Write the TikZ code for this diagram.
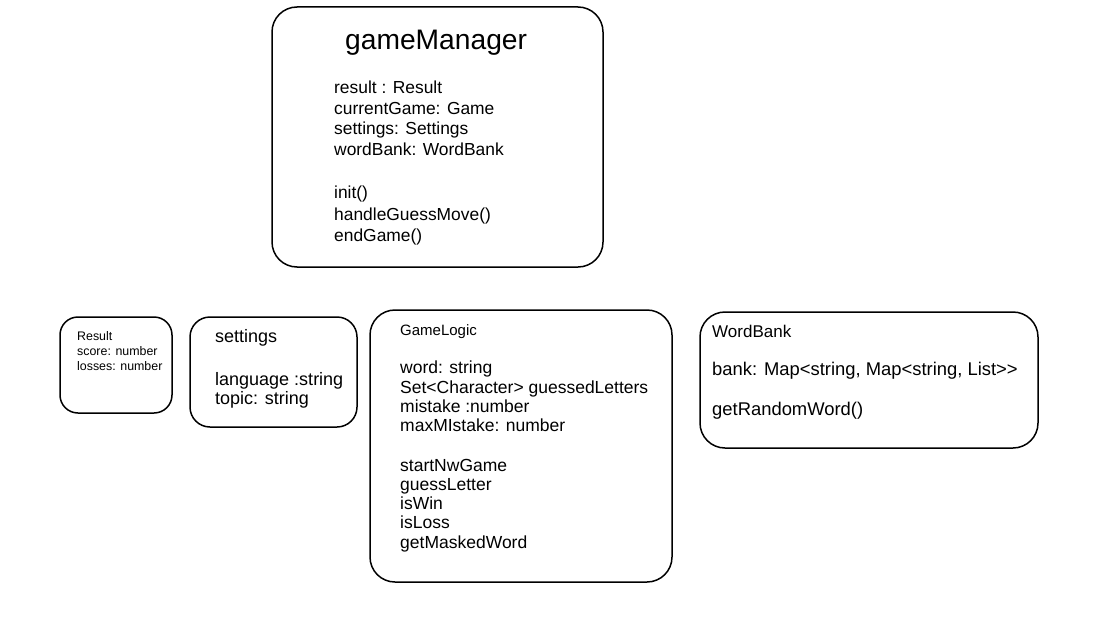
\documentclass[tikz,border=0pt]{standalone}
\usepackage{fontspec}
\setmainfont{Liberation Sans}
\begin{document}
\begin{tikzpicture}[x=1pt,y=-1pt,
  box/.style={draw=black, line width=1.5pt, fill=white, rectangle, inner sep=0pt},
  txt/.style={anchor=base west, inner sep=0pt, text=black},
  fgm/.style={font=\fontsize{17.4}{20}\selectfont},
  fgl/.style={font=\fontsize{17.5}{20}\selectfont},
  fwb/.style={font=\fontsize{18.4}{20}\selectfont},
  fst/.style={font=\fontsize{18}{20}\selectfont},
  frs/.style={font=\fontsize{12.4}{14}\selectfont}]
\useasboundingbox (0,0) rectangle (1094,626);
% boxes
\node[box, rounded corners=25pt, minimum width=331pt, minimum height=260pt] (gm) at (437.5,137) {};
\node[box, rounded corners=18pt, minimum width=112pt, minimum height=96pt] (rs) at (116,365) {};
\node[box, rounded corners=20pt, minimum width=167pt, minimum height=110pt] (st) at (273.5,372) {};
\node[box, rounded corners=25pt, minimum width=302pt, minimum height=272pt] (gl) at (521,446) {};
\node[box, rounded corners=25pt, minimum width=338pt, minimum height=136pt] (wb) at (869,380) {};
% gameManager
\node[txt, font=\fontsize{28.2}{30}\selectfont] (gmt) at (345,50) {gameManager};
\node[txt, fgm] (gm1) at (334,93) {result : Result};
\node[txt, fgm] (gm2) at (334,114) {currentGame: Game};
\node[txt, fgm] (gm3) at (334,134) {settings: Settings};
\node[txt, fgm] (gm4) at (334,155) {wordBank: WordBank};
\node[txt, fgm] (gm5) at (334,198) {init()};
\node[txt, fgm] (gm6) at (334,220) {handleGuessMove()};
\node[txt, fgm] (gm7) at (334,241) {endGame()};
% Result
\node[txt, frs] (rs1) at (77,340) {Result};
\node[txt, frs] (rs2) at (77,355) {score: number};
\node[txt, frs] (rs3) at (77,370) {losses: number};
% settings
\node[txt, fst] (st1) at (215,342) {settings};
\node[txt, fst] (st2) at (215,385) {language :string};
\node[txt, fst] (st3) at (215,404) {topic: string};
% GameLogic
\node[txt, font=\fontsize{15}{18}\selectfont] (glt) at (400,335) {GameLogic};
\node[txt, fgl] (gl1) at (400,373) {word: string};
\node[txt, fgl] (gl2) at (400,393) {Set<Character> guessedLetters};
\node[txt, fgl] (gl3) at (400,412) {mistake :number};
\node[txt, fgl] (gl4) at (400,431) {maxMIstake: number};
\node[txt, fgl] (gl5) at (400,471) {startNwGame};
\node[txt, fgl] (gl6) at (400,490) {guessLetter};
\node[txt, fgl] (gl7) at (400,509) {isWin};
\node[txt, fgl] (gl8) at (400,528) {isLoss};
\node[txt, fgl] (gl9) at (400,548) {getMaskedWord};
% WordBank
\node[txt, font=\fontsize{17}{20}\selectfont] (wbt) at (712,337) {WordBank};
\node[txt, fwb] (wb1) at (712,375) {bank: Map<string, Map<string, List>{}>};
\node[txt, fwb] (wb2) at (712,415) {getRandomWord()};
\end{tikzpicture}
\end{document}
